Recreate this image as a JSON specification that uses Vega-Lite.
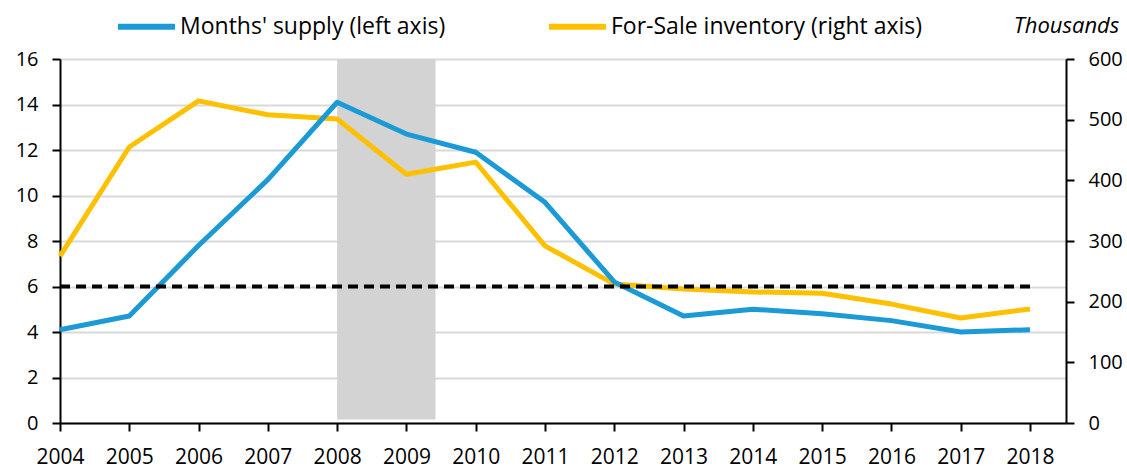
{
  "$schema": "https://vega.github.io/schema/vega-lite/v6.json",
  "width": 1006,
  "height": 364,
  "autosize": {"type": "none"},
  "padding": {"left": 60, "top": 59, "right": 61, "bottom": 46},
  "background": "white",
  "config": {
    "font": "Open Sans",
    "view": {"stroke": null},
    "axis": {
      "labelFont": "Open Sans",
      "labelFontSize": 20,
      "labelColor": "#000000",
      "domainColor": "#000000",
      "domainWidth": 2,
      "tickColor": "#000000",
      "tickWidth": 2,
      "gridColor": "#d9d9d9",
      "gridWidth": 2
    },
    "legend": {
      "labelFont": "Open Sans",
      "labelFontSize": 23,
      "labelColor": "#000000",
      "labelLimit": 0
    }
  },
  "datasets": {
    "series": [
      {"year": 2004, "series": "Months' supply (left axis)", "value": 4.1},
      {"year": 2005, "series": "Months' supply (left axis)", "value": 4.7},
      {"year": 2006, "series": "Months' supply (left axis)", "value": 7.8},
      {"year": 2007, "series": "Months' supply (left axis)", "value": 10.7},
      {"year": 2008, "series": "Months' supply (left axis)", "value": 14.1},
      {"year": 2009, "series": "Months' supply (left axis)", "value": 12.7},
      {"year": 2010, "series": "Months' supply (left axis)", "value": 11.9},
      {"year": 2011, "series": "Months' supply (left axis)", "value": 9.7},
      {"year": 2012, "series": "Months' supply (left axis)", "value": 6.2},
      {"year": 2013, "series": "Months' supply (left axis)", "value": 4.7},
      {"year": 2014, "series": "Months' supply (left axis)", "value": 5.0},
      {"year": 2015, "series": "Months' supply (left axis)", "value": 4.8},
      {"year": 2016, "series": "Months' supply (left axis)", "value": 4.5},
      {"year": 2017, "series": "Months' supply (left axis)", "value": 4.0},
      {"year": 2018, "series": "Months' supply (left axis)", "value": 4.1},
      {"year": 2004, "series": "For-Sale inventory (right axis)", "value": 275},
      {"year": 2005, "series": "For-Sale inventory (right axis)", "value": 455},
      {"year": 2006, "series": "For-Sale inventory (right axis)", "value": 531},
      {"year": 2007, "series": "For-Sale inventory (right axis)", "value": 508},
      {"year": 2008, "series": "For-Sale inventory (right axis)", "value": 501},
      {"year": 2009, "series": "For-Sale inventory (right axis)", "value": 410},
      {"year": 2010, "series": "For-Sale inventory (right axis)", "value": 430},
      {"year": 2011, "series": "For-Sale inventory (right axis)", "value": 292},
      {"year": 2012, "series": "For-Sale inventory (right axis)", "value": 229},
      {"year": 2013, "series": "For-Sale inventory (right axis)", "value": 221},
      {"year": 2014, "series": "For-Sale inventory (right axis)", "value": 216},
      {"year": 2015, "series": "For-Sale inventory (right axis)", "value": 214},
      {"year": 2016, "series": "For-Sale inventory (right axis)", "value": 196},
      {"year": 2017, "series": "For-Sale inventory (right axis)", "value": 173},
      {"year": 2018, "series": "For-Sale inventory (right axis)", "value": 188}
    ],
    "band": [{"start": 2008, "end": 2009.42, "low": 0.15, "high": 16}],
    "ref": [{"start": 2004, "end": 2018, "level": 6}]
  },
  "layer": [
    {
      "data": {"name": "band"},
      "mark": {"type": "rect", "color": "#d3d3d3"},
      "encoding": {
        "x": {
          "field": "start", "type": "quantitative",
          "scale": {"domain": [2004, 2018.52], "nice": false, "zero": false},
          "axis": {
            "values": [2004, 2005, 2006, 2007, 2008, 2009, 2010, 2011, 2012, 2013, 2014, 2015, 2016, 2017, 2018],
            "format": "d", "title": null, "grid": false, "tickSize": 8, "labelPadding": 15, "labelFlush": false,
            "labelFontSize": 21
          }
        },
        "x2": {"field": "end"},
        "y": {
          "field": "low", "type": "quantitative",
          "scale": {"domain": [0, 16], "nice": false},
          "axis": {
            "orient": "left", "values": [0, 2, 4, 6, 8, 10, 12, 14, 16], "title": null,
            "grid": true, "tickSize": 8, "labelPadding": 14, "zindex": 0
          }
        },
        "y2": {"field": "high"}
      }
    },
    {
      "data": {"name": "series"},
      "transform": [{"filter": "datum.series === 'For-Sale inventory (right axis)'"}],
      "mark": {"type": "line", "strokeWidth": 5, "strokeJoin": "round"},
      "encoding": {
        "x": {"field": "year", "type": "quantitative", "scale": {"domain": [2004, 2018.52], "nice": false, "zero": false}},
        "y": {
          "field": "value", "type": "quantitative",
          "scale": {"domain": [0, 600], "nice": false},
          "axis": {
            "orient": "right", "values": [0, 100, 200, 300, 400, 500, 600], "grid": false,
            "tickSize": 8, "labelPadding": 14,
            "title": "Thousands", "titleAngle": 0, "titleFontStyle": "italic", "titleFont": "Open Sans",
            "titleFontSize": 22, "titleFontWeight": "normal", "titleColor": "#000000",
            "titleAlign": "center", "titleBaseline": "middle", "titleX": 0, "titleY": -34
          }
        },
        "color": {
          "field": "series", "type": "nominal",
          "scale": {"domain": ["Months' supply (left axis)", "For-Sale inventory (right axis)"], "range": ["#1b9ad6", "#ffc000"]},
          "legend": {
            "title": null, "orient": "none", "direction": "horizontal",
            "legendX": 55, "legendY": -64,
            "symbolType": "stroke", "symbolSize": 3249, "symbolStrokeWidth": 6,
            "labelOffset": 2, "columnPadding": 91, "labelLimit": 0
          }
        }
      }
    },
    {
      "data": {"name": "series"},
      "transform": [{"filter": "datum.series === \"Months' supply (left axis)\""}],
      "mark": {"type": "line", "strokeWidth": 5, "strokeJoin": "round"},
      "encoding": {
        "x": {"field": "year", "type": "quantitative", "scale": {"domain": [2004, 2018.52], "nice": false, "zero": false}},
        "y": {
          "field": "value", "type": "quantitative",
          "scale": {"domain": [0, 16], "nice": false},
          "axis": null
        },
        "color": {"field": "series", "type": "nominal"}
      }
    },
    {
      "data": {"name": "ref"},
      "mark": {"type": "rule", "color": "#000000", "strokeWidth": 4, "strokeDash": [10, 6]},
      "encoding": {
        "x": {"field": "start", "type": "quantitative", "scale": {"domain": [2004, 2018.52], "nice": false, "zero": false}},
        "x2": {"field": "end"},
        "y": {"field": "level", "type": "quantitative", "scale": {"domain": [0, 16], "nice": false}, "axis": null}
      }
    }
  ],
  "resolve": {"scale": {"y": "independent"}, "axis": {"y": "independent"}}
}
